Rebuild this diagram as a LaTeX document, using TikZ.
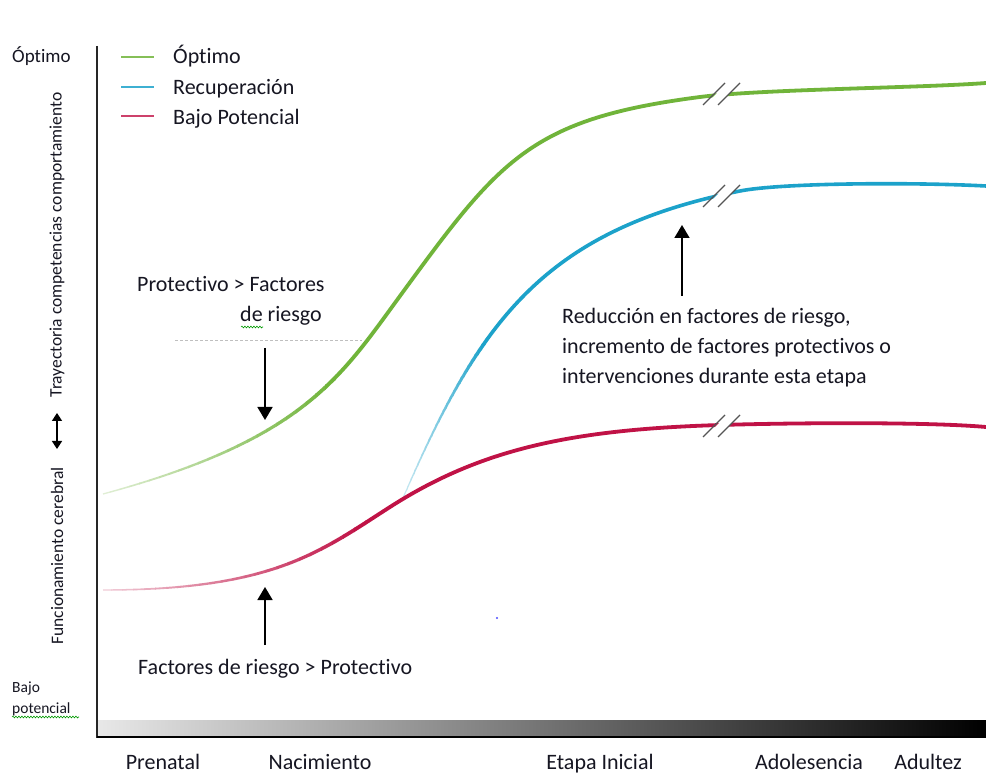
\documentclass[tikz,border=0pt]{standalone}
\usepackage{fontspec}
\setmainfont{Carlito}[Ligatures=NoCommon]
\usetikzlibrary{arrows.meta,decorations.pathmorphing}
\definecolor{cgreen}{RGB}{112,180,58}
\definecolor{cblue}{RGB}{28,162,202}
\definecolor{cred}{RGB}{192,18,70}
\definecolor{txt}{RGB}{22,22,34}
\definecolor{slashc}{RGB}{85,85,85}
\newcommand\fadecurve[6]{%
  \foreach \fcI in {0,...,23}{%
    \pgfmathsetmacro\fcA{#3+(#4-#3)*\fcI/24}%
    \pgfmathsetmacro\fcB{#3+(#4-#3)*(\fcI+1)/24+0.6}%
    \pgfmathtruncatemacro\fcP{22+78*\fcI/23}%
    \pgfmathsetmacro\fcW{#5+(#6-#5)*\fcI/23}%
    \begin{scope}
      \clip (\fcA,0) rectangle (\fcB,775);
      \draw[color=#1!\fcP!white, line width=\fcW pt] #2;
    \end{scope}
  }%
  \begin{scope}
    \clip (#4,0) rectangle (990,775);
    \draw[color=#1, line width=#6pt] #2;
  \end{scope}
}
\begin{document}
\begin{tikzpicture}[x=1pt,y=-1pt,
  lbl/.style={font=\fontsize{22}{26}\selectfont, text=txt, inner sep=0pt},
  small/.style={font=\fontsize{19}{22}\selectfont, text=txt, inner sep=0pt},
  tiny/.style={font=\fontsize{15.5}{18}\selectfont, text=txt, inner sep=0pt},
  vlbl/.style={font=\fontsize{17.5}{20}\selectfont, text=txt, inner sep=0pt, rotate=90},
  arr/.style={-{Triangle[width=15pt,length=13pt]}, line width=1.6pt, black},
  slash/.style={slashc, line width=1.3pt},
  legline/.style={line width=2.6pt},
  spell/.style={decorate, decoration={snake, amplitude=0.9pt, segment length=3pt}, green!60!black, line width=0.6pt}]
\useasboundingbox (0,0) rectangle (986,775);
\fill[white] (0,0) rectangle (986,775);

% axes and gradient bar
\shade[left color=black!9, middle color=black!42, right color=black] (97,720) rectangle (986,735);
\draw[line width=1.6pt, black!85] (97,46) -- (97,738);
\draw[line width=2pt, black] (97,737) -- (986,737);

% curves
\fadecurve{cblue}{(403,498) .. controls (478,325.5) and (540,231) .. (740,191) .. controls (780,183) and (910,182) .. (986,186)}{400}{485}{1}{3.6}
\fadecurve{cgreen}{(103,494) .. controls (303,440) and (340,378) .. (400,296) .. controls (500,159) and (530,119) .. (700,97) .. controls (760,89.2) and (920,88) .. (986,83)}{100}{335}{1.3}{3.8}
\fadecurve{cred}{(103,590) .. controls (273,590) and (320,551.8) .. (390,507) .. controls (480,449.4) and (570,429.5) .. (720,425) .. controls (800,422.6) and (930,422) .. (986,427)}{100}{365}{1.3}{3.8}

% breaks
\foreach \yb in {105,207,437}{
  \fill[white] (705,\yb) -- (727,\yb-22) -- (740,\yb-22) -- (718,\yb) -- cycle;
  \draw[slash] (703,\yb) -- (725,\yb-22);
  \draw[slash] (718,\yb) -- (740,\yb-22);
}

% dashed faint line
\draw[black!25, line width=0.7pt, dash pattern=on 3pt off 2pt] (175,340) -- (362,340);

% legend
\draw[legline, cgreen!85!white] (121,57) -- (154,57);
\draw[legline, cblue!85!white] (121,87) -- (154,87);
\draw[legline, cred!80!white] (121,116) -- (154,116);
\node[lbl, anchor=base west] (lg1) at (173,64) {Óptimo};
\node[lbl, anchor=base west] (lg2) at (173,95) {Recuperación};
\node[lbl, anchor=base west] (lg3) at (173,125) {Bajo Potencial};

% left axis labels
\node[small, anchor=base west] (yopt) at (12,63) {Óptimo};
\node[tiny, anchor=base west] (ybajo) at (12,692) {Bajo};
\node[tiny, anchor=base west] (ypot) at (12,713) {potencial};
\draw[spell] (12,717) -- (79,717);
\node[vlbl] (ytray) at (57,245) {Trayectoria competencias comportamiento};
\node[vlbl] (yfunc) at (57,556) {Funcionamiento cerebral};
\coordinate (da1) at (57,413);
\coordinate (da2) at (57,449);
\draw[{Triangle[width=10pt,length=8pt]}-{Triangle[width=10pt,length=8pt]}, line width=1.6pt] (da1) -- (da2);

% annotations
\node[lbl, anchor=base west] (prot1) at (137,292) {Protectivo > Factores};
\node[lbl, anchor=base west] (prot2) at (240,322) {de riesgo};
\draw[spell] (241,327) -- (263,327);
\coordinate (a1s) at (265,348);
\coordinate (a1e) at (265,420);
\draw[arr] (a1s) -- (a1e);

\node[lbl, anchor=base west] (fr) at (138,674) {Factores de riesgo > Protectivo};
\coordinate (a2s) at (265,645);
\coordinate (a2e) at (265,587);
\draw[arr] (a2s) -- (a2e);

\node[lbl, anchor=base west] (red1) at (562,324) {Reducción en factores de riesgo,};
\node[lbl, anchor=base west] (red2) at (562,354) {incremento de factores protectivos o};
\node[lbl, anchor=base west] (red3) at (562,384) {intervenciones durante esta etapa};
\coordinate (a3s) at (682,296);
\coordinate (a3e) at (682,225);
\draw[arr] (a3s) -- (a3e);

% speck
\fill[blue!70] (497,618) circle (1.2);

% x axis labels
\node[lbl, anchor=base] (xp) at (163,769) {Prenatal};
\node[lbl, anchor=base] (xn) at (320,769) {Nacimiento};
\node[lbl, anchor=base] (xe) at (600,769) {Etapa Inicial};
\node[lbl, anchor=base] (xa) at (809,769) {Adolesencia};
\node[lbl, anchor=base] (xd) at (928,769) {Adultez};
\end{tikzpicture}
\end{document}
